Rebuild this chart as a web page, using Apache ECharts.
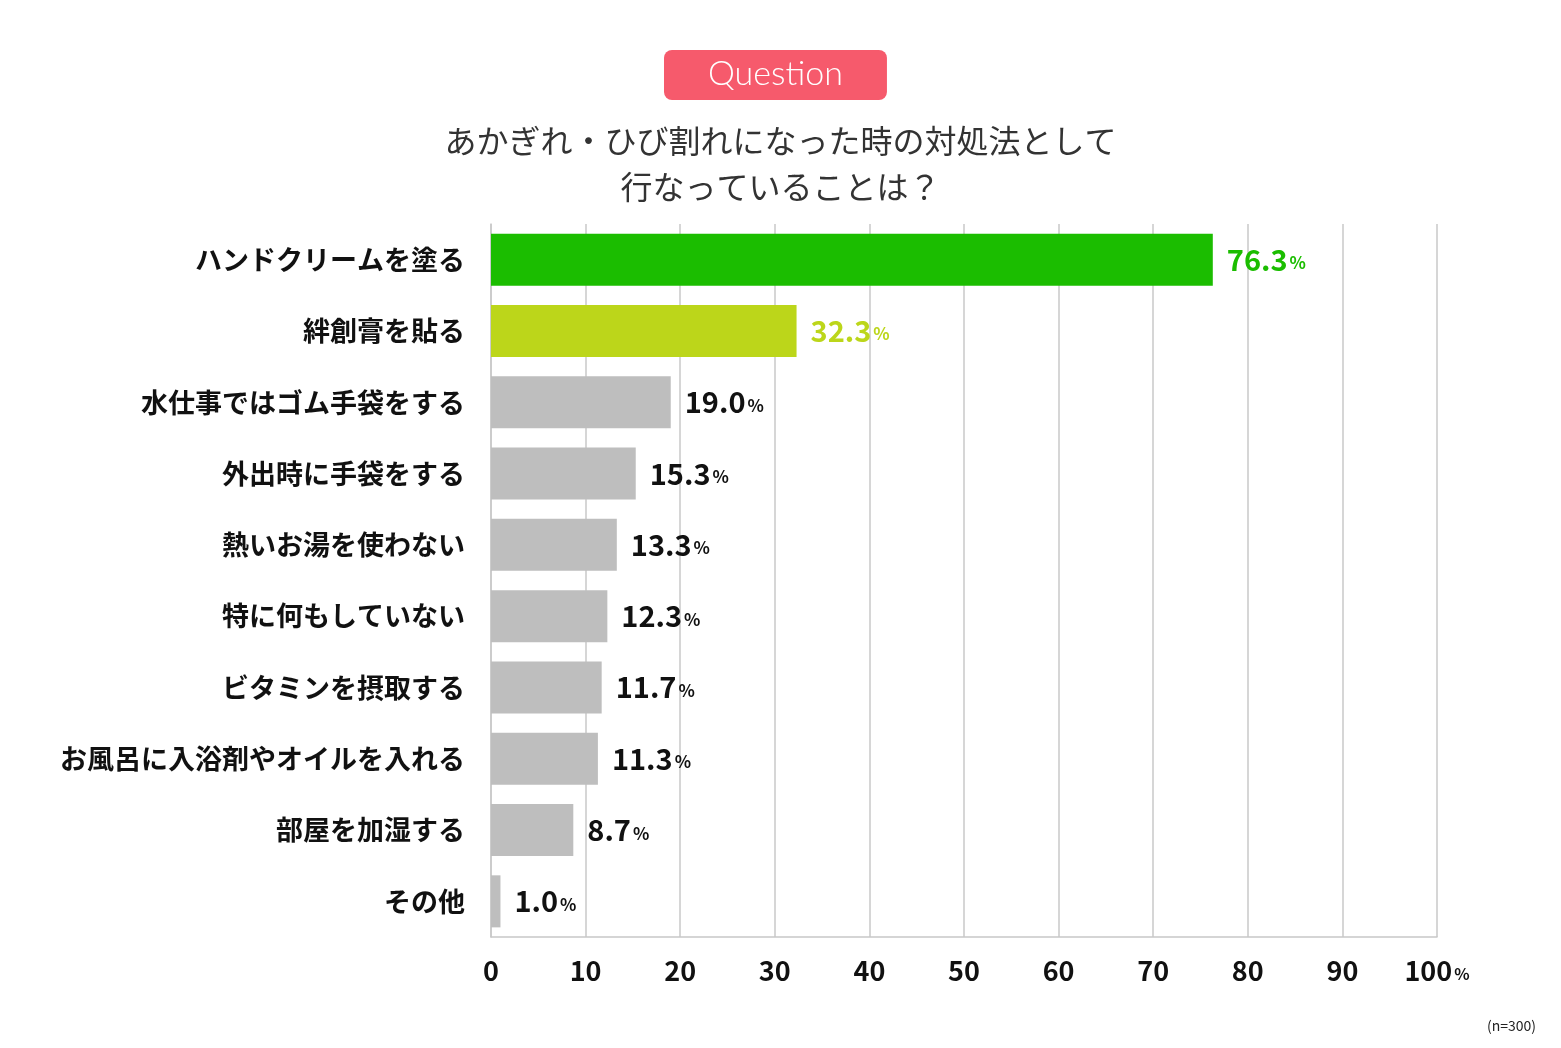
<!DOCTYPE html>
<html>
<head>
<meta charset="utf-8">
<script src="https://cdn.jsdelivr.net/npm/echarts@6/dist/echarts.min.js"></script>
<style>
html,body{margin:0;padding:0;background:#fff;}
#main{width:1561px;height:1048px;}
</style>
</head>
<body>
<div id="main"></div>
<script>
// 回答項目（上から順）
var categories = ['ハンドクリームを塗る','絆創膏を貼る','水仕事ではゴム手袋をする','外出時に手袋をする','熱いお湯を使わない','特に何もしていない','ビタミンを摂取する','お風呂に入浴剤やオイルを入れる','部屋を加湿する','その他'];
var values = [76.3, 32.3, 19.0, 15.3, 13.3, 12.3, 11.7, 11.3, 8.7, 1.0];
var barColors = ['#1bbd00','#bcd61a','#bebebe','#bebebe','#bebebe','#bebebe','#bebebe','#bebebe','#bebebe','#bebebe'];
var labelColors = ['#1bbd00','#bcd61a','#111','#111','#111','#111','#111','#111','#111','#111'];
var xTicks = [0,10,20,30,40,50,60,70,80,90,100];

var jp = '"Noto Sans CJK JP", sans-serif';
var myChart = echarts.init(document.getElementById('main'));

var barData = [];
for (var i = 0; i < values.length; i++) {
	barData.push({
		value: values[i],
		itemStyle: {color: barColors[i]},
		label: {
			rich: {
				n: {fontSize: 29, fontWeight: 'bold', color: labelColors[i], fontFamily: jp},
				p: {fontSize: 17, fontWeight: 'bold', color: labelColors[i], fontFamily: jp, padding: [6,0,0,2]}
			}
		}
	});
}

var option = {
	backgroundColor: '#fff',
	animation: false,
	title: [{
		text: 'Question',
		left: 664,
		top: 50,
		backgroundColor: '#f65a6c',
		borderRadius: 8,
		padding: [5, 44, 6, 44],
		textStyle: {color: '#fff', fontSize: 34, fontWeight: 300, fontFamily: 'Lato, sans-serif', lineHeight: 39}
	}, {
		text: 'あかぎれ・ひび割れになった時の対処法として\n行なっていることは？',
		left: 'center',
		top: 113,
		textStyle: {color: '#333', fontSize: 32, fontWeight: 'normal', fontFamily: jp, lineHeight: 46}
	}, {
		text: '(n=300)',
		right: 20,
		top: 1014,
		textStyle: {color: '#222', fontSize: 14, fontWeight: 'normal', fontFamily: jp}
	}],
	grid: {left: 491, right: 124, top: 224, bottom: 111, containLabel: false},
	xAxis: {
		type: 'value',
		min: 0,
		max: 100,
		interval: 10,
		axisLine: {show: true, lineStyle: {color: '#c8c8c8', width: 1.5}},
		axisTick: {show: false},
		splitLine: {show: true, lineStyle: {color: '#c8c8c8', width: 1.5}},
		axisLabel: {
			margin: 20,
			formatter: function (v) {
				if (xTicks.indexOf(v) < 0) return '';
				return v === 100 ? '{n|100}{p|%}' : '{n|' + v + '}';
			},
			rich: {
				n: {fontSize: 27, fontWeight: 'bold', color: '#111', fontFamily: jp},
				p: {fontSize: 16, fontWeight: 'bold', color: '#111', fontFamily: jp, padding: [6,0,0,2]}
			}
		}
	},
	yAxis: {
		type: 'category',
		inverse: true,
		data: categories,
		axisLine: {show: true, lineStyle: {color: '#c8c8c8', width: 1.5}},
		axisTick: {show: false},
		axisLabel: {margin: 26, fontSize: 27, fontWeight: 'bold', color: '#111', fontFamily: jp}
	},
	series: [{
		type: 'bar',
		data: barData,
		barCategoryGap: '27%',
		label: {
			show: true,
			position: 'right',
			distance: 14,
			formatter: function (p) { return '{n|' + p.value.toFixed(1) + '}{p|%}'; }
		}
	}]
};

myChart.setOption(option);
</script>
</body>
</html>
